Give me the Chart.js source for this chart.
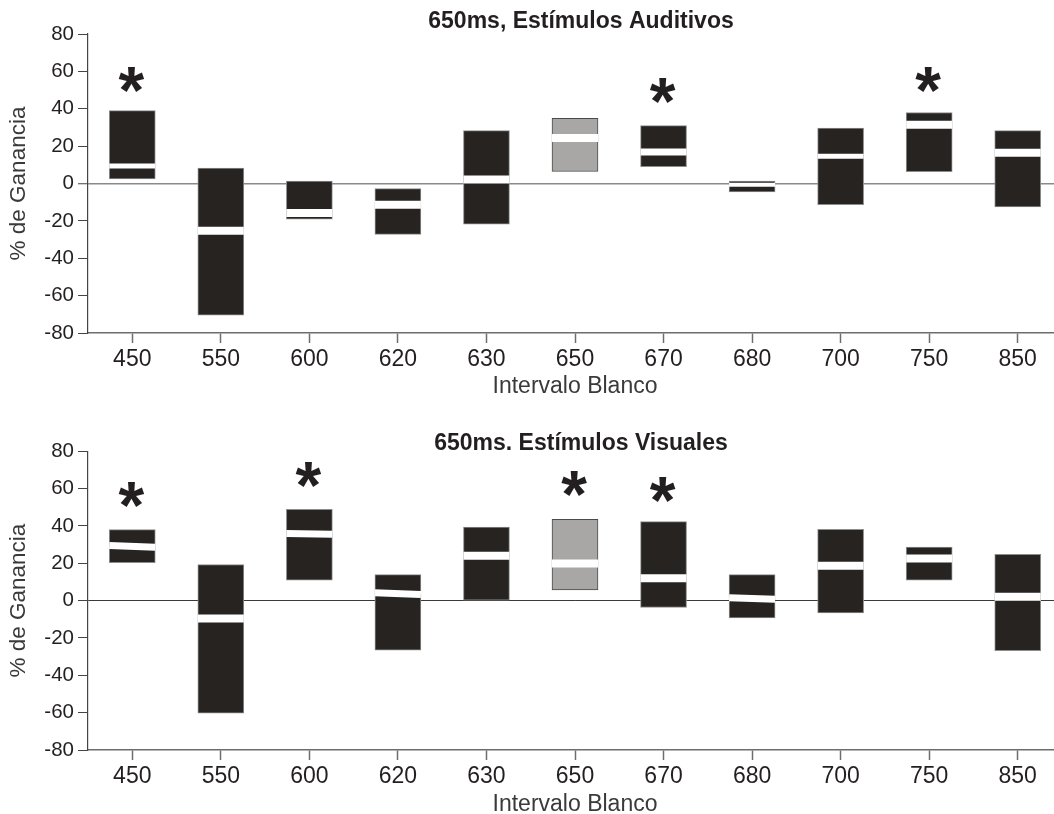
<!DOCTYPE html>
<html>
<head>
<meta charset="utf-8">
<script src="https://cdn.jsdelivr.net/npm/chart.js@4.4.1/dist/chart.umd.min.js"></script>
<style>
  html, body { margin: 0; padding: 0; background: #fff; overflow: hidden; width: 1054px; height: 814px; }
  canvas.panel { position: absolute; left: 0; }
  #auditivos { top: 0; width: 1160px; height: 407px; }
  #visuales { top: 407px; width: 1160px; height: 420px; }
</style>
</head>
<body>
<canvas id="auditivos" class="panel" width="1160" height="407"></canvas>
<canvas id="visuales" class="panel" width="1160" height="420"></canvas>
<script>
// Blank-interval categories (ms)
const intervals = ['450', '550', '600', '620', '630', '650', '670', '680', '700', '750', '850'];
const yTicks = [-80, -60, -40, -20, 0, 20, 40, 60, 80];

// Auditory stimuli: % gain range (low/high) and median per interval
const audLow    = [2.5, -70.5, -19.1, -27.2, -21.8, 6.4, 9.0, -4.5, -11.3, 6.3, -12.5];
const audHigh   = [39.0, 8.3, 1.3, -2.7, 28.3, 34.9, 31.0, 1.3, 29.7, 38.0, 28.3];
const audMedian = [9.3, -25.3, -15.8, -11.4, 2.1, 24.4, 16.9, -0.7, 14.6, 31.5, 16.5];
const audBand   = [5, 8, 8, 8, 8, 8, 7, 4, 5, 8, 8];
const audTilt   = [0, 0, 0, 0, 0, 0, 0, 0, 0, 0, 0];
const audSignif = [55.9, null, null, null, null, null, 49.8, null, null, 55.9, null];

// Visual stimuli: % gain range (low/high) and median per interval
const visLow    = [20.3, -60.3, 10.9, -26.6, 0, 5.7, -3.7, -9.3, -6.6, 10.9, -26.8];
const visHigh   = [38.0, 19.3, 48.9, 13.9, 39.4, 43.5, 42.3, 13.9, 38.2, 28.7, 24.8];
const visMedian = [29.0, -9.6, 35.7, 3.7, 24.0, 19.9, 11.9, 1.1, 18.7, 22.5, 2.1];
const visBand   = [7, 8, 7, 7, 8, 8, 8, 7, 8, 8, 8];
const visTilt   = [2, 0, 1.2, 2, 0, 0, 0, 2, 0, 0, 0];
const visSignif = [56.6, null, 67.3, null, null, 62.7, 59.3, null, null, null, null];

const FAMILY = '"Liberation Sans", Arial, Helvetica, sans-serif';
const DARK = '#262320';
const GRAY = '#a8a7a5';
const referenceInterval = '650';

// Centre the panel title over the plotted region instead of the whole canvas
const titleShiftPlugin = {
  id: 'titleShift',
  afterLayout(chart) {
    const t = chart.titleBlock;
    if (!t) return;
    const shift = 50;
    t.left += shift;
    t.right += shift;
  }
};

// Significance asterisks placed above the marked intervals
const asteriskPlugin = {
  id: 'asterisks',
  afterDatasetsDraw(chart, args, opts) {
    const { ctx, scales: { x, y } } = chart;
    ctx.save();
    ctx.font = 'bold 66px ' + FAMILY;
    ctx.fillStyle = '#231f20';
    ctx.textAlign = 'center';
    ctx.textBaseline = 'alphabetic';
    const m = ctx.measureText('*');
    const mid = (m.actualBoundingBoxAscent - m.actualBoundingBoxDescent) / 2;
    (opts.values || []).forEach((v, i) => {
      if (v == null) return;
      ctx.fillText('*', x.getPixelForValue(i) - 1, y.getPixelForValue(v) + mid);
    });
    ctx.restore();
  }
};

function buildPanel(canvasId, cfg) {
  const ranges = cfg.low.map((l, i) => [l, cfg.high[i]]);
  const fills = intervals.map(c => c === referenceInterval ? GRAY : DARK);
  const edges = intervals.map(c => c === referenceInterval ? '#4a4a4a' : '#8c8c8c');
  return new Chart(document.getElementById(canvasId), {
    type: 'bar',
    data: {
      labels: intervals,
      datasets: [
        {
          type: 'line',
          data: cfg.median,
          showLine: false,
          pointStyle: 'line',
          pointRadius: 23,
          pointHoverRadius: 23,
          pointBorderWidth: cfg.band,
          pointHoverBorderWidth: cfg.band,
          pointBorderColor: '#ffffff',
          pointBackgroundColor: '#ffffff',
          pointRotation: cfg.tilt,
          order: 0
        },
        {
          type: 'bar',
          data: ranges,
          backgroundColor: fills,
          borderColor: edges,
          borderWidth: 1,
          borderSkipped: false,
          barThickness: 46,
          order: 1
        }
      ]
    },
    options: {
      responsive: false,
      animation: false,
      devicePixelRatio: 1,
      events: [],
      layout: { padding: { left: 0, right: 98, top: 0, bottom: 0 } },
      plugins: {
        legend: { display: false },
        tooltip: { enabled: false },
        title: {
          display: true,
          text: cfg.title,
          color: '#231f20',
          font: { family: FAMILY, size: 23, weight: 'bold', lineHeight: 0.62 },
          padding: cfg.titlePad
        },
        asterisks: { values: cfg.signif }
      },
      scales: {
        x: {
          type: 'category',
          offset: true,
          grid: {
            display: true,
            drawOnChartArea: false,
            offset: false,
            tickLength: 10,
            tickColor: '#6d6d6d',
            tickWidth: 1.5
          },
          border: { display: true, color: '#6d6d6d', width: 1.5 },
          ticks: {
            color: '#231f20',
            font: { family: FAMILY, size: 23 },
            padding: 3,
            maxRotation: 0,
            autoSkip: false
          },
          title: {
            display: true,
            text: 'Intervalo Blanco',
            color: '#3a3a3a',
            font: { family: FAMILY, size: 23 },
            padding: { top: 0, bottom: cfg.xTitlePad }
          },
          afterFit(s) { s.height = cfg.xHeight; }
        },
        y: {
          min: -80,
          max: 80,
          afterBuildTicks(s) { s.ticks = yTicks.map(v => ({ value: v })); },
          ticks: {
            color: '#231f20',
            font: { family: FAMILY, size: 20.5 },
            padding: 4
          },
          grid: {
            drawOnChartArea: true,
            color: c => (c.tick && c.tick.value === 0) ? cfg.zeroColor : 'rgba(0,0,0,0)',
            lineWidth: c => (c.tick && c.tick.value === 0) ? cfg.zeroWidth : 1,
            tickColor: '#444444',
            tickLength: 10,
            tickWidth: 1
          },
          border: { display: true, color: '#444444', width: 1.2 },
          title: {
            display: true,
            text: '% de Ganancia',
            color: '#3a3a3a',
            font: { family: FAMILY, size: 22.5 },
            padding: { top: 5.5, bottom: 0 }
          },
          afterFit(s) { s.width = 88; }
        }
      }
    },
    plugins: [titleShiftPlugin, asteriskPlugin]
  });
}

buildPanel('auditivos', {
  title: '650ms, Estímulos Auditivos',
  low: audLow, high: audHigh, median: audMedian, band: audBand, tilt: audTilt, signif: audSignif,
  titlePad: { top: 14.47, bottom: 5.27 },
  xHeight: 74, xTitlePad: 6.2,
  zeroColor: '#8a8a8a', zeroWidth: 1.5
});

buildPanel('visuales', {
  title: '650ms. Estímulos Visuales',
  low: visLow, high: visHigh, median: visMedian, band: visBand, tilt: visTilt, signif: visSignif,
  titlePad: { top: 29.87, bottom: 0 },
  xHeight: 77, xTitlePad: 8.2,
  zeroColor: '#3a3a3a', zeroWidth: 1
});
</script>
</body>
</html>
